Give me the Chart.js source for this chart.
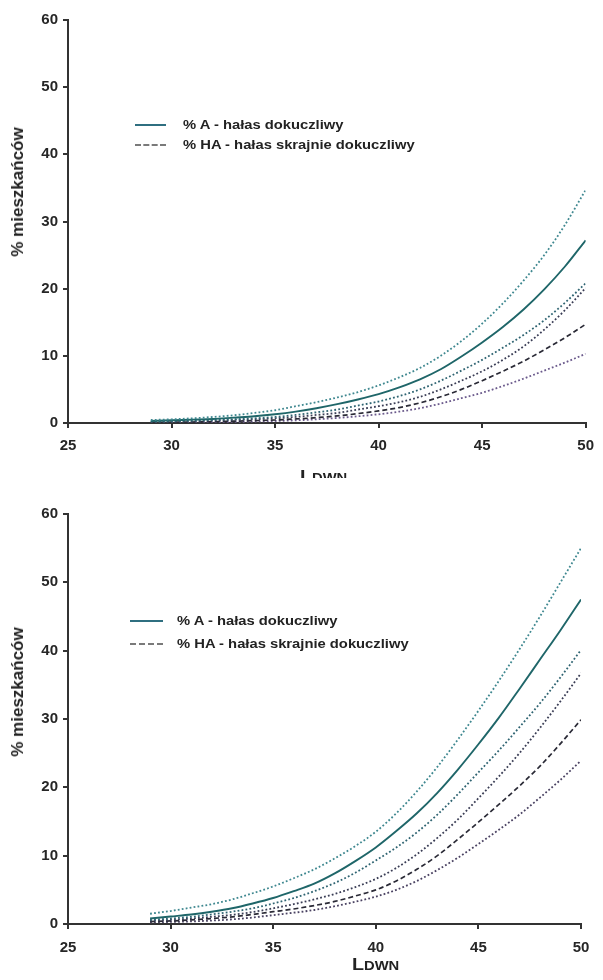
<!DOCTYPE html>
<html><head><meta charset="utf-8">
<script src="https://cdn.jsdelivr.net/npm/chart.js@4.4.1/dist/chart.umd.min.js"></script>
<style>
body{margin:0;background:#fff;width:603px;height:980px;position:relative;overflow:hidden;font-family:"Liberation Sans",Arial,sans-serif;color:#222;}
.panel{position:absolute;left:0;width:603px;overflow:hidden;}
.ytitle{position:absolute;font-weight:bold;font-size:17px;white-space:nowrap;transform:translate(-50%,-50%) rotate(-90deg);}
.xtitle{position:absolute;font-weight:bold;white-space:nowrap;transform-origin:left top;transform:scaleX(1.23);}
.xtitle .big{font-size:16px;}
.xtitle .small{font-size:12px;}
.leg{position:absolute;font-weight:bold;font-size:12px;white-space:nowrap;transform-origin:left center;transform:translateY(-50%) scaleX(1.23);line-height:14px;}
.sample{position:absolute;height:0;}
</style></head>
<body>
<script>
const ldwn = [29,30,31,32,33,34,35,36,37,38,39,40,41,42,43,44,45,46,47,48,49,50];
const xTicks = [25,30,35,40,45,50];
const yTicks = [0,10,20,30,40,50,60];
const legendLabels = ['% A - hałas dokuczliwy','% HA - hałas skrajnie dokuczliwy'];
const yTitle = '% mieszkańców';

// chart 1 (top)
const c1A    = [0.3,0.4,0.5,0.6,0.8,1.0,1.3,1.7,2.2,2.8,3.5,4.3,5.3,6.5,8.0,9.9,12.0,14.3,16.9,19.9,23.3,27.2];
const c1AHi  = [0.45,0.55,0.7,0.9,1.15,1.5,1.9,2.5,3.1,3.8,4.6,5.6,6.8,8.2,10.0,12.2,14.8,17.8,21.2,25.0,29.5,34.7];
const c1ALo  = [0.2,0.25,0.35,0.45,0.55,0.7,0.9,1.2,1.6,2.0,2.6,3.2,4.0,5.0,6.3,7.8,9.4,11.2,13.1,15.3,17.9,20.8];
const c1HAHi = [0.15,0.2,0.25,0.35,0.45,0.55,0.7,0.9,1.2,1.5,2.0,2.5,3.1,3.9,5.0,6.3,7.7,9.4,11.4,13.9,16.8,20.1];
const c1HA   = [0.1,0.12,0.15,0.2,0.27,0.35,0.45,0.6,0.8,1.05,1.4,1.8,2.3,3.0,3.9,5.0,6.3,7.7,9.2,10.9,12.7,14.7];
const c1HALo = [0.05,0.07,0.09,0.12,0.16,0.22,0.3,0.4,0.55,0.75,1.0,1.3,1.7,2.2,2.9,3.7,4.5,5.5,6.6,7.8,9.0,10.3];

// chart 2 (bottom)
const c2A    = [0.8,1.1,1.4,1.8,2.3,3.0,3.8,4.8,5.9,7.4,9.2,11.2,13.6,16.2,19.2,22.6,26.3,30.2,34.4,38.7,43.0,47.5];
const c2AHi  = [1.5,1.9,2.4,2.9,3.6,4.5,5.5,6.7,8.0,9.6,11.4,13.5,16.2,19.4,23.0,27.0,31.2,35.6,40.2,45.0,50.0,55.0];
const c2ALo  = [0.6,0.8,1.05,1.4,1.8,2.3,3.0,3.8,4.8,6.0,7.5,9.3,11.2,13.4,16.0,19.0,22.2,25.4,28.8,32.3,36.1,40.1];
const c2HAHi = [0.5,0.6,0.8,1.05,1.35,1.75,2.3,2.9,3.6,4.4,5.4,6.6,8.2,10.2,12.6,15.3,18.4,21.6,25.0,28.7,32.6,36.7];
const c2HA   = [0.35,0.45,0.6,0.8,1.05,1.4,1.8,2.2,2.7,3.3,4.1,5.0,6.3,8.0,10.0,12.4,14.9,17.5,20.2,23.1,26.4,29.9];
const c2HALo = [0.25,0.3,0.38,0.5,0.68,0.95,1.3,1.65,2.05,2.6,3.25,4.0,5.0,6.3,7.9,9.7,11.7,13.8,16.0,18.5,21.1,23.9];

function pts(arr){ return arr.map((v,i)=>({x:ldwn[i], y:v})); }

function makePanel(cfg){
  const panel = document.createElement('div');
  panel.className='panel';
  panel.style.top = cfg.top+'px';
  panel.style.height = cfg.height+'px';
  document.body.appendChild(panel);
  const cv = document.createElement('canvas');
  cv.width = 603; cv.height = cfg.height;
  cv.style.width='603px'; cv.style.height=cfg.height+'px';
  cv.style.position='absolute'; cv.style.left='0'; cv.style.top='0';
  panel.appendChild(cv);

  const dot = [1.8,2.2];
  const ds = [
    {data:pts(cfg.AHi), borderColor:'#3f8890', borderDash:dot, borderWidth:1.8},
    {data:pts(cfg.A), borderColor:'#1f6669', borderWidth:1.9},
    {data:pts(cfg.ALo), borderColor:'#2f6472', borderDash:dot, borderWidth:1.8},
    {data:pts(cfg.HAHi), borderColor:'#3a3d55', borderDash:dot, borderWidth:1.8},
    {data:pts(cfg.HA), borderColor:'#2a2a36', borderDash:[5,3], borderWidth:1.7},
    {data:pts(cfg.HALo), borderColor:cfg.loColor, borderDash:dot, borderWidth:1.8}
  ].map(d=>Object.assign({pointRadius:0, tension:0.3, cubicInterpolationMode:'monotone', fill:false}, d));

  const tickFont = {family:'"Liberation Sans", Arial, sans-serif', size:15, weight:'bold'};
  new Chart(cv.getContext('2d'), {
    type:'line',
    data:{datasets:ds},
    options:{
      responsive:false, animation:false, devicePixelRatio:1,
      layout:{padding:{top:cfg.padTop, right:cfg.padRight, left:0, bottom:0}},
      plugins:{legend:{display:false}, tooltip:{enabled:false}},
      scales:{
        x:{type:'linear', min:25, max:50,
          afterBuildTicks:(s)=>{ s.ticks = xTicks.map(v=>({value:v})); },
          afterFit:(s)=>{ s.height = cfg.xAxisH; },
          grid:{drawOnChartArea:false, drawTicks:true, tickLength:5, tickColor:'#333', lineWidth:2},
          border:{display:true, color:'#333', width:2},
          ticks:{color:'#262626', font:tickFont, padding:cfg.xPad, maxRotation:0, autoSkip:false}
        },
        y:{type:'linear', min:0, max:60,
          afterBuildTicks:(s)=>{ s.ticks = yTicks.map(v=>({value:v})); },
          afterFit:(s)=>{ s.width = 68; },
          grid:{drawOnChartArea:false, drawTicks:true, tickLength:5, tickColor:'#333', lineWidth:2},
          border:{display:true, color:'#333', width:2},
          ticks:{color:'#262626', font:tickFont, padding:5}
        }
      }
    }
  });

  const yt = document.createElement('div');
  yt.className='ytitle'; yt.textContent = yTitle;
  yt.style.left = '18px'; yt.style.top = cfg.yTitleY+'px';
  panel.appendChild(yt);
  const xt = document.createElement('div');
  xt.className='xtitle';
  xt.innerHTML = '<span class="big">L</span><span class="small">DWN</span>';
  xt.style.left = cfg.xTitleX+'px'; xt.style.top = cfg.xTitleY+'px';
  panel.appendChild(xt);
  const rows = [{y:cfg.legY1, style:'solid', color:'#2f6f80'},{y:cfg.legY2, style:'dashed', color:'#7a7a7a'}];
  rows.forEach((r,i)=>{
    const s = document.createElement('div');
    s.className='sample';
    s.style.left = cfg.legX1+'px'; s.style.width = (cfg.legX2-cfg.legX1)+'px';
    s.style.top = (r.y-1)+'px';
    s.style.borderTop = '2px '+r.style+' '+r.color;
    panel.appendChild(s);
    const t = document.createElement('div');
    t.className='leg'; t.textContent = legendLabels[i];
    t.style.left = cfg.legTX+'px'; t.style.top = r.y+'px';
    panel.appendChild(t);
  });
}

makePanel({top:0, height:478, padTop:20, padRight:10, xAxisH:55, xPad:9,
  A:c1A, AHi:c1AHi, ALo:c1ALo, HA:c1HA, HAHi:c1HAHi, HALo:c1HALo, loColor:'#6b5a8c',
  yTitleY:192, xTitleX:300, xTitleY:468, legY1:125, legY2:145, legX1:135, legX2:166, legTX:183});

makePanel({top:490, height:490, padTop:24, padRight:22, xAxisH:56, xPad:10,
  A:c2A, AHi:c2AHi, ALo:c2ALo, HA:c2HA, HAHi:c2HAHi, HALo:c2HALo, loColor:'#4a4262',
  yTitleY:202, xTitleX:352, xTitleY:466, legY1:131, legY2:154, legX1:130, legX2:163, legTX:177});
</script>
</body></html>
